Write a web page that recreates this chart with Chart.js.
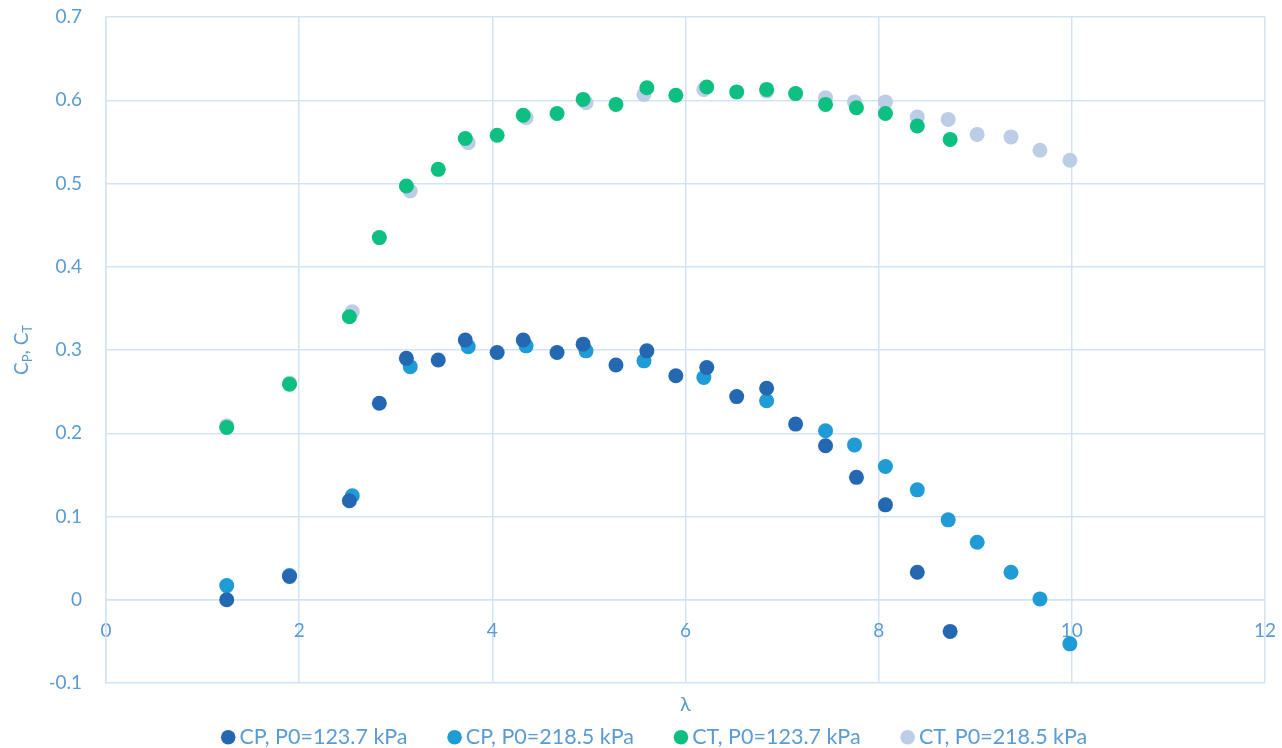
<!DOCTYPE html>
<html>
<head>
<meta charset="utf-8">
<script src="https://cdn.jsdelivr.net/npm/chart.js@4.4.1/dist/chart.umd.min.js"></script>
<style>
  html, body { margin: 0; padding: 0; background: #fff; }
  #wrap { width: 1282px; height: 748px; }
</style>
</head>
<body>
<div id="wrap"><canvas id="chart" width="1282" height="748"></canvas></div>
<script>
// Tip speed ratio values for each test pressure
const lambdaLow = [1.25, 1.9, 2.52, 2.83, 3.11, 3.44, 3.72, 4.05, 4.32, 4.67, 4.94, 5.28, 5.60, 5.90, 6.22, 6.53, 6.84, 7.14, 7.45, 7.77, 8.07, 8.40, 8.74];
const lambdaHigh = [1.25, 1.9, 2.55, 3.15, 3.75, 4.35, 4.97, 5.57, 6.19, 6.84, 7.45, 7.75, 8.07, 8.40, 8.72, 9.02, 9.37, 9.67, 9.98];

// Power and thrust coefficients
const cpLow = [0.0, 0.028, 0.119, 0.236, 0.290, 0.288, 0.312, 0.297, 0.312, 0.297, 0.307, 0.282, 0.299, 0.269, 0.279, 0.244, 0.254, 0.211, 0.185, 0.147, 0.114, 0.033, -0.038];
const cpHigh = [0.017, 0.029, 0.125, 0.280, 0.304, 0.305, 0.299, 0.287, 0.267, 0.239, 0.203, 0.186, 0.160, 0.132, 0.096, 0.069, 0.033, 0.001, -0.053];
const ctLow = [0.207, 0.259, 0.340, 0.435, 0.497, 0.517, 0.554, 0.558, 0.582, 0.584, 0.601, 0.595, 0.615, 0.606, 0.616, 0.610, 0.613, 0.608, 0.595, 0.591, 0.584, 0.569, 0.553];
const ctHigh = [0.209, 0.260, 0.346, 0.491, 0.549, 0.579, 0.597, 0.607, 0.613, 0.611, 0.603, 0.598, 0.598, 0.580, 0.577, 0.559, 0.556, 0.540, 0.528];

const seriesLabels = ['CP, P0=123.7 kPa', 'CP, P0=218.5 kPa', 'CT, P0=123.7 kPa', 'CT, P0=218.5 kPa'];
const seriesColors = ['#2568b2', '#1f9bd6', '#0dbf80', '#bccde6'];

const textColor = '#5b9bd5';
const gridColor = '#d3e3f4';
const fontFamily = 'Lato, "Open Sans", sans-serif';
const legendFontSize = 21.5;

function toPoints(xs, ys) {
  return xs.map((x, i) => ({ x: x, y: ys[i] }));
}

// Excel spaces the legend entries wider than Chart.js does, pad with trailing spaces
const measureCtx = document.createElement('canvas').getContext('2d');
measureCtx.font = legendFontSize + 'px ' + fontFamily;
const spaceCount = Math.max(1, Math.round(37 / measureCtx.measureText(' ').width));
const legendGap = ' '.repeat(spaceCount);

// Draws the rotated "CP, CT" title with subscripts
const yTitlePlugin = {
  id: 'yTitle',
  afterDraw(chart) {
    const ctx = chart.ctx;
    const area = chart.chartArea;
    const parts = [
      { t: 'C', size: 19, dy: 0 },
      { t: 'P', size: 13, dy: 6 },
      { t: ', C', size: 19, dy: 0 },
      { t: 'T', size: 13, dy: 6 }
    ];
    ctx.save();
    ctx.translate(22, (area.top + area.bottom) / 2);
    ctx.rotate(-Math.PI / 2);
    ctx.fillStyle = textColor;
    ctx.textBaseline = 'middle';
    ctx.textAlign = 'left';
    let total = 0;
    parts.forEach(p => {
      ctx.font = p.size + 'px ' + fontFamily;
      p.w = ctx.measureText(p.t).width;
      total += p.w;
    });
    let x = -total / 2;
    parts.forEach(p => {
      ctx.font = p.size + 'px ' + fontFamily;
      ctx.fillText(p.t, x, p.dy);
      x += p.w;
    });
    ctx.restore();
  }
};

new Chart(document.getElementById('chart'), {
  type: 'scatter',
  data: {
    datasets: [
      { label: seriesLabels[0], data: toPoints(lambdaLow, cpLow) },
      { label: seriesLabels[1], data: toPoints(lambdaHigh, cpHigh) },
      { label: seriesLabels[2], data: toPoints(lambdaLow, ctLow) },
      { label: seriesLabels[3], data: toPoints(lambdaHigh, ctHigh) }
    ].map((d, i) => Object.assign(d, {
      backgroundColor: seriesColors[i],
      borderColor: seriesColors[i],
      borderWidth: 0,
      pointRadius: 7.5,
      pointHoverRadius: 8
    }))
  },
  options: {
    responsive: false,
    animation: false,
    layout: { padding: { top: 17, right: 17, left: 50, bottom: -10 } },
    plugins: {
      legend: {
        position: 'bottom',
        labels: {
          usePointStyle: true,
          pointStyle: 'circle',
          boxWidth: 1,
          boxHeight: 10.3,
          padding: 8,
          color: textColor,
          font: { family: fontFamily, size: legendFontSize },
          generateLabels: chart => {
            const items = Chart.defaults.plugins.legend.labels.generateLabels(chart);
            items.forEach((item, i) => {
              item.lineWidth = 0;
              if (i < items.length - 1) item.text += legendGap;
            });
            return items;
          }
        }
      },
      tooltip: { enabled: false }
    },
    scales: {
      x: {
        type: 'linear',
        position: { y: 0 },
        min: 0,
        max: 12,
        ticks: {
          stepSize: 2,
          padding: 0,
          color: textColor,
          font: { family: fontFamily, size: 19 }
        },
        grid: { color: gridColor, lineWidth: 1.5, tickLength: 20, tickColor: 'rgba(0,0,0,0)' },
        border: { color: gridColor, width: 1.5 }
      },
      x2: {
        type: 'linear',
        position: 'bottom',
        min: 0,
        max: 12,
        ticks: { display: false },
        grid: { display: false, drawTicks: false },
        border: { display: false },
        title: {
          display: true,
          text: 'λ',
          color: textColor,
          font: { family: fontFamily, size: 20 },
          padding: { top: 9.5, bottom: 2 }
        }
      },
      y: {
        min: -0.1,
        max: 0.7,
        ticks: {
          stepSize: 0.1,
          padding: 0,
          color: textColor,
          font: { family: fontFamily, size: 19 },
          callback: v => String(Number(v.toFixed(1)))
        },
        grid: { color: gridColor, lineWidth: 1.5, tickLength: 24, tickColor: 'rgba(0,0,0,0)' },
        border: { color: gridColor, width: 1.5 },
        afterFit: scale => { scale.width = 56; }
      }
    }
  },
  plugins: [yTitlePlugin]
});
</script>
</body>
</html>
